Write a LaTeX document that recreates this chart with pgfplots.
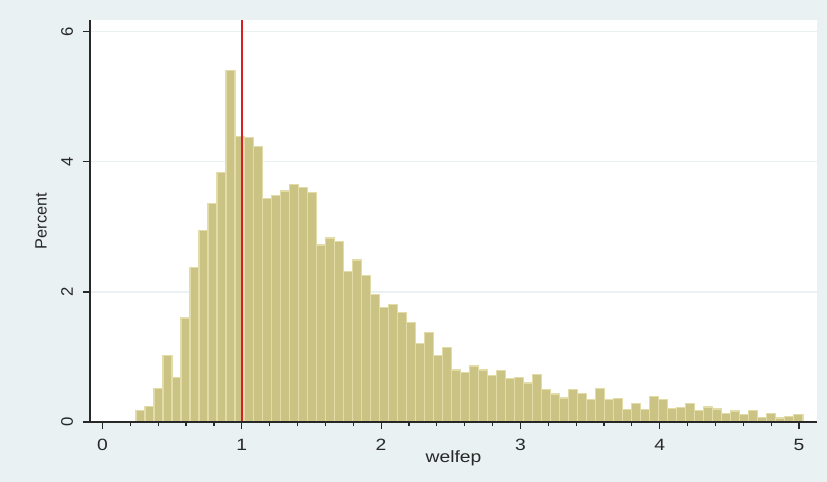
\documentclass[border=0pt]{standalone}
\usepackage{pgfplots}
\pgfplotsset{compat=1.18}
\usepackage{fontspec}
\setmainfont{Liberation Sans}
\newfontfamily\widefont{Liberation Sans}[FakeStretch=1.18]
\definecolor{bgc}{RGB}{233,241,243}
\definecolor{barfill}{RGB}{203,195,131}
\definecolor{baredge}{RGB}{226,220,168}
\definecolor{gridc}{RGB}{234,241,243}
\definecolor{xlinec}{RGB}{215,30,35}
\definecolor{axc}{RGB}{40,40,40}
\begin{document}
\begin{tikzpicture}
\fill[bgc] (-45bp,-30bp) rectangle (368.5bp,211bp);
\useasboundingbox (-45bp,-30bp) rectangle (368.5bp,211bp);
\begin{axis}[
  at={(0,0)}, anchor=south west,
  scale only axis, width=363.5bp, height=201bp,
  xmin=-0.0897, xmax=5.129, ymin=0, ymax=6.18,
  axis x line*=bottom, axis y line*=left,
  axis line style={line width=0.6bp, axc, -},
  axis background/.style={fill=white},
  xtick={0,1,2,3,4,5}, minor x tick num=4,
  ytick={0,2,4,6},
  xtick pos=bottom, ytick pos=left,
  tick align=outside, major tick length=3.6bp, minor tick length=2.2bp,
  tick style={line width=0.6bp, axc},
  ymajorgrids, major grid style={gridc, line width=0.6bp},
  /pgf/number format/assume math mode=true,
  xticklabel style={anchor=base, font=\widefont\fontsize{8.2}{10}\selectfont, text=axc},
  xticklabel shift=10.5bp,
  yticklabel style={rotate=90, anchor=base, font=\fontsize{8.4}{10}\selectfont, text=axc},
  yticklabel shift=5bp,
  xlabel={welfep},
  xlabel style={at={(axis description cs:0.5,-0.0995)}, anchor=base, font=\widefont\fontsize{8.2}{10}\selectfont, text=axc},
  ylabel={Percent},
  ylabel style={at={(axis description cs:-0.0674,0.5)}, anchor=center, font=\fontsize{8.2}{10}\selectfont, text=axc},
  clip=false,
]
\addplot[ybar interval, fill=barfill, draw=baredge, line width=0.6bp] coordinates {
(0.2400,0.18) (0.3047,0.24) (0.3694,0.51) (0.4341,1.02) (0.4988,0.69)
(0.5635,1.60) (0.6282,2.37) (0.6929,2.94) (0.7576,3.36) (0.8223,3.84)
(0.8870,5.40) (0.9517,4.39) (1.0164,4.37) (1.0811,4.23) (1.1458,3.43)
(1.2105,3.48) (1.2752,3.55) (1.3399,3.65) (1.4046,3.61) (1.4693,3.53)
(1.5340,2.72) (1.5987,2.83) (1.6634,2.78) (1.7281,2.31) (1.7928,2.49)
(1.8575,2.25) (1.9222,1.96) (1.9869,1.76) (2.0516,1.81) (2.1163,1.68)
(2.1810,1.53) (2.2457,1.21) (2.3104,1.37) (2.3751,1.02) (2.4398,1.15)
(2.5045,0.80) (2.5692,0.76) (2.6339,0.86) (2.6986,0.80) (2.7633,0.72)
(2.8280,0.79) (2.8927,0.67) (2.9574,0.68) (3.0221,0.60) (3.0868,0.73)
(3.1515,0.50) (3.2162,0.43) (3.2809,0.37) (3.3456,0.50) (3.4103,0.44)
(3.4750,0.35) (3.5397,0.51) (3.6044,0.34) (3.6691,0.36) (3.7338,0.19)
(3.7985,0.29) (3.8632,0.19) (3.9279,0.39) (3.9926,0.34) (4.0573,0.21)
(4.1220,0.22) (4.1867,0.29) (4.2514,0.18) (4.3161,0.23) (4.3808,0.20)
(4.4455,0.13) (4.5102,0.17) (4.5749,0.12) (4.6396,0.18) (4.7043,0.07)
(4.7690,0.13) (4.8337,0.06) (4.8984,0.08) (4.9631,0.11) (5.0278,0.11)
};
\addplot[color=xlinec, line width=0.7bp, mark=none, forget plot] coordinates {(1,0) (1,6.18)};
\draw[line width=0.6bp, axc] (axis description cs:0,0) -- (axis description cs:1,0);
\end{axis}
\end{tikzpicture}
\end{document}
